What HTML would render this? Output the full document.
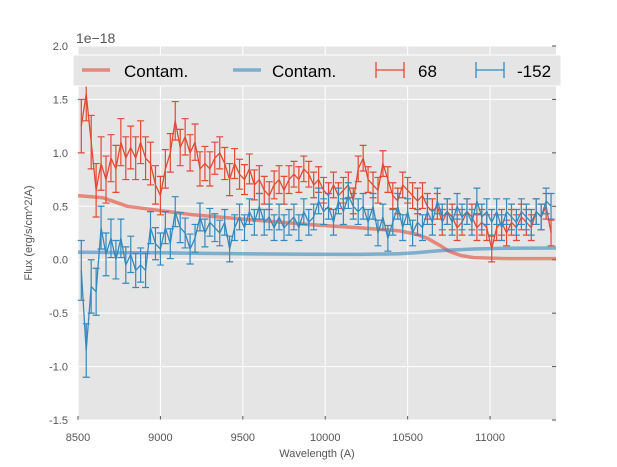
<!DOCTYPE html>
<html><head><meta charset="utf-8"><style>
body{margin:0;background:#fff;}
svg{display:block;font-family:"Liberation Sans",sans-serif;}
</style></head><body>
<svg id="c" width="617" height="467"></svg>
<script>
const waves=[8520,8550,8580,8610,8640,8670,8700,8730,8760,8790,8820,8850,8880,8910,8940,8970,9000,9030,9060,9090,9120,9150,9180,9210,9240,9270,9300,9330,9360,9390,9420,9450,9480,9510,9540,9570,9600,9630,9660,9690,9720,9750,9780,9810,9840,9870,9900,9930,9960,9990,10020,10050,10080,10110,10140,10170,10200,10230,10260,10290,10320,10350,10380,10410,10440,10470,10500,10530,10560,10590,10620,10650,10680,10710,10740,10770,10800,10830,10860,10890,10920,10950,10980,11010,11040,11070,11100,11130,11160,11190,11220,11250,11280,11310,11340,11370];
const red=[1.25,1.55,1.1,0.65,0.9,0.75,0.95,0.85,1.1,0.95,1.05,0.95,1.1,0.95,0.9,0.7,0.6,0.85,1.0,1.3,1.05,1.15,1.0,1.1,0.85,0.9,0.85,0.95,1.0,0.9,0.75,0.9,0.8,0.75,0.85,0.7,0.75,0.65,0.6,0.7,0.75,0.65,0.75,0.8,0.75,0.85,0.8,0.7,0.75,0.65,0.6,0.7,0.6,0.65,0.7,0.55,0.85,0.95,0.75,0.7,0.65,0.9,0.75,0.6,0.55,0.7,0.65,0.6,0.55,0.6,0.5,0.45,0.5,0.35,0.45,0.4,0.3,0.35,0.45,0.4,0.3,0.35,0.3,0.1,0.3,0.35,0.25,0.35,0.3,0.4,0.35,0.3,0.45,0.4,0.5,0.25];
const blue=[-0.1,-0.85,-0.25,-0.3,0.3,0.05,0.2,0.0,0.2,-0.05,0.05,-0.1,-0.05,-0.1,0.3,0.15,0.1,0.3,0.15,0.45,0.3,0.25,0.1,0.2,0.4,0.25,0.35,0.3,0.25,0.35,0.1,0.3,0.4,0.3,0.45,0.35,0.5,0.35,0.4,0.3,0.4,0.3,0.35,0.4,0.3,0.45,0.35,0.4,0.55,0.45,0.5,0.35,0.55,0.45,0.6,0.5,0.45,0.5,0.35,0.5,0.25,0.4,0.2,0.35,0.5,0.3,0.45,0.25,0.35,0.3,0.45,0.35,0.55,0.4,0.45,0.35,0.5,0.4,0.45,0.35,0.55,0.4,0.45,0.35,0.45,0.3,0.45,0.4,0.35,0.45,0.4,0.35,0.45,0.4,0.55,0.5];
const redErr=[0.25,0.25,0.25,0.25,0.25,0.22,0.22,0.22,0.22,0.2,0.2,0.2,0.2,0.2,0.2,0.18,0.18,0.18,0.18,0.18,0.17,0.17,0.17,0.17,0.16,0.16,0.16,0.15,0.15,0.15,0.15,0.14,0.14,0.14,0.14,0.14,0.13,0.13,0.13,0.13,0.13,0.13,0.13,0.12,0.12,0.12,0.12,0.12,0.12,0.12,0.12,0.12,0.12,0.12,0.12,0.12,0.12,0.12,0.12,0.12,0.12,0.12,0.12,0.12,0.12,0.12,0.12,0.12,0.12,0.12,0.12,0.12,0.12,0.12,0.12,0.12,0.12,0.12,0.12,0.12,0.12,0.12,0.12,0.12,0.12,0.12,0.12,0.12,0.12,0.12,0.12,0.12,0.12,0.12,0.12,0.12];
const blueErr=[0.28,0.25,0.25,0.22,0.2,0.2,0.18,0.18,0.18,0.17,0.17,0.16,0.16,0.16,0.15,0.15,0.15,0.15,0.14,0.14,0.14,0.14,0.14,0.13,0.13,0.13,0.13,0.13,0.12,0.12,0.12,0.12,0.12,0.12,0.12,0.12,0.12,0.12,0.12,0.12,0.12,0.12,0.12,0.12,0.12,0.12,0.12,0.12,0.12,0.12,0.12,0.12,0.12,0.12,0.12,0.12,0.12,0.12,0.12,0.12,0.12,0.12,0.12,0.12,0.12,0.12,0.12,0.12,0.12,0.12,0.12,0.12,0.12,0.12,0.12,0.12,0.12,0.12,0.12,0.12,0.12,0.12,0.12,0.12,0.12,0.12,0.12,0.12,0.12,0.12,0.12,0.12,0.12,0.12,0.12,0.12];
const contWaves=[8500,8650,8800,9000,9200,9500,9900,10200,10450,10550,10620,10700,10750,10820,10900,11100,11400];
const contRed=[0.6,0.58,0.5,0.46,0.42,0.38,0.33,0.3,0.27,0.24,0.2,0.13,0.08,0.04,0.02,0.01,0.01];
const contBlue=[0.07,0.068,0.066,0.065,0.06,0.055,0.052,0.05,0.055,0.065,0.075,0.085,0.09,0.095,0.1,0.108,0.11];
const xTicks=[8500,9000,9500,10000,10500,11000];
const yTicks=[-1.5,-1.0,-0.5,0.0,0.5,1.0,1.5,2.0];

const L=78,R=556,T=46,B=420,X0=8500,X1=11400,Y0=-1.5,Y1=2.0;
const sx=v=>L+(v-X0)/(X1-X0)*(R-L);
const sy=v=>B-(v-Y0)/(Y1-Y0)*(B-T);
const svg=document.getElementById('c');const NS='http://www.w3.org/2000/svg';
function mk(tag,attrs,parent){const e=document.createElementNS(NS,tag);for(const k in attrs)e.setAttribute(k,attrs[k]);(parent||svg).appendChild(e);return e;}
const bg=mk('rect',{x:L,y:T,width:R-L,height:B-T,fill:'#e5e5e5'});


xTicks.forEach(t=>{const g=mk('line',{x1:sx(t),x2:sx(t),y1:T,y2:B,stroke:'#fff','stroke-width':1});


const tl=mk('text',{x:sx(t),y:B+21,'font-size':11,fill:'#555','text-anchor':'middle'});tl.textContent=t;


mk('line',{x1:sx(t),x2:sx(t),y1:B,y2:B-4,stroke:'#555'});});
yTicks.forEach(t=>{const g=mk('line',{x1:L,x2:R,y1:sy(t),y2:sy(t),stroke:'#fff','stroke-width':1});


const tl=mk('text',{x:L-10,y:sy(t)+4,'font-size':11,fill:'#555','text-anchor':'end'});tl.textContent=t.toFixed(1);


mk('line',{x1:R,x2:R-4,y1:sy(t),y2:sy(t),stroke:'#555'});});
function line(xs,ys,color,w,op,name){const d=xs.map((x,i)=>(i?'L':'M')+sx(x).toFixed(1)+','+sy(ys[i]).toFixed(1)).join('');
const p=mk('path',{d:d,fill:'none',stroke:color,'stroke-width':w,'stroke-opacity':op,'stroke-linejoin':'round'});

}
line(contWaves,contRed,'#E24A33',3.5,0.6,'contam-red-line');
line(contWaves,contBlue,'#348ABD',3.5,0.6,'contam-blue-line');
function errs(ys,es,color,name){const n=Math.min(waves.length,ys.length);const g=mk('g',{stroke:color,'stroke-width':1.2,fill:'none'});


let d='';for(let i=0;i<n;i++){const x=sx(waves[i]),a=sy(ys[i]+es[i]),b=sy(ys[i]-es[i]);d+=`M${x},${a}L${x},${b}M${x-3.5},${a}L${x+3.5},${a}M${x-3.5},${b}L${x+3.5},${b}`;}
mk('path',{d:d},g);
line(waves.slice(0,n),ys.slice(0,n),color,1.3,1,name+'-line');}
errs(red,redErr,'#E24A33','series-68');
errs(blue,blueErr,'#348ABD','series-152');
const lg=mk('g',{});


mk('rect',{x:73,y:55,width:488,height:31,fill:'#e5e5e5',stroke:'#fff'},lg);
function lt(x,s){const t=mk('text',{x:x,y:77,'font-size':17,fill:'#000'},lg);t.textContent=s;

}
mk('line',{x1:82,x2:110,y1:70,y2:70,stroke:'#E24A33','stroke-width':3.5,'stroke-opacity':0.6},lg);lt(124,'Contam.');
mk('line',{x1:233,x2:261,y1:70,y2:70,stroke:'#348ABD','stroke-width':3.5,'stroke-opacity':0.6},lg);lt(272,'Contam.');
function le(x,c){mk('path',{d:`M${x},70L${x+28},70M${x},62L${x},78M${x+28},62L${x+28},78`,stroke:c,'stroke-width':1.3,fill:'none'},lg);}
le(376,'#E24A33');lt(418,'68');le(476,'#348ABD');lt(517,'-152');
const off=mk('text',{x:76,y:43,'font-size':14,fill:'#555'});off.textContent='1e\u221218';


const xl=mk('text',{x:317,y:457,'font-size':11,fill:'#555','text-anchor':'middle'});xl.textContent='Wavelength (A)';


const yl=mk('text',{x:0,y:0,'font-size':11,fill:'#555','text-anchor':'middle',transform:'translate(32,233) rotate(-90)'});yl.textContent='Flux (erg/s/cm^2/A)';


</script>
</body></html>
